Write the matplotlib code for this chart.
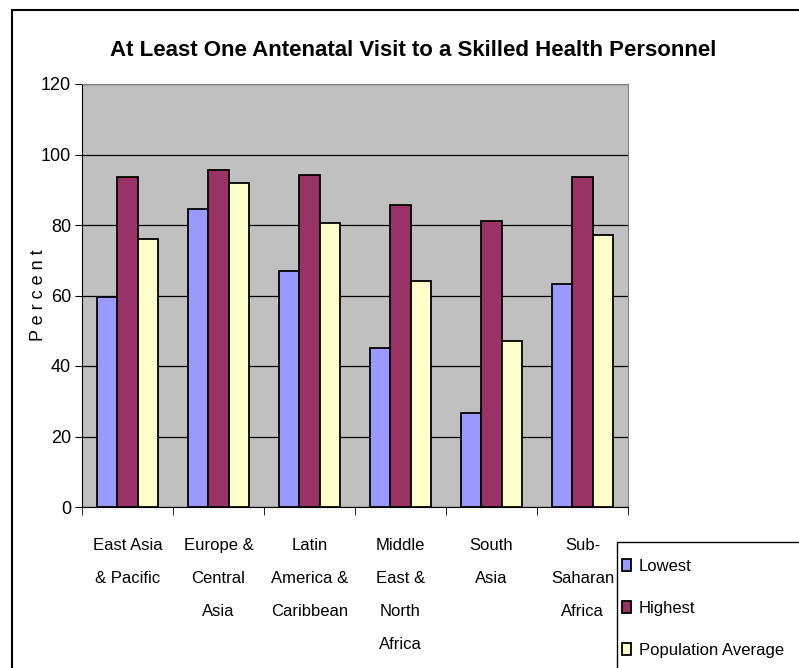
import matplotlib.pyplot as plt
from matplotlib.patches import Rectangle
import numpy as np

plt.rcParams['font.family'] = ['Liberation Sans', 'DejaVu Sans']

regions = ['East Asia\n& Pacific', 'Europe &\nCentral\nAsia', 'Latin\nAmerica &\nCaribbean',
           'Middle\nEast &\nNorth\nAfrica', 'South\nAsia', 'Sub-\nSaharan\nAfrica']
lowest = [59.5, 84.5, 66.9, 45.2, 26.8, 63.4]
highest = [93.7, 95.7, 94.3, 85.8, 81.2, 93.7]
pop_avg = [75.9, 91.8, 80.5, 64.2, 47.1, 77.3]

series = [('Lowest', lowest, '#9999FF'),
          ('Highest', highest, '#993366'),
          ('Population Average', pop_avg, '#FFFFCC')]

fig = plt.figure(figsize=(7.99, 6.68), dpi=100)
ax = fig.add_axes([82 / 799, 1 - 507 / 668, (628 - 82) / 799, (507 - 84) / 668])
ax.set_facecolor('#C0C0C0')

x = np.arange(len(regions))
w = 0.22
for k, (name, vals, col) in enumerate(series):
    ax.bar(x + (k - 1) * w, vals, w, color=col, edgecolor='black', linewidth=1.3,
           label=name, zorder=3)

ax.set_ylim(0, 120)
ax.set_xlim(-0.5, len(regions) - 0.5)
ax.set_yticks(range(0, 121, 20))
ax.yaxis.grid(True, color='black', linewidth=0.9, zorder=1)
ax.set_axisbelow(True)

ax.set_xticks(x)
ax.set_xticklabels(regions, fontsize=12, linespacing=2.5, va='top')
ax.set_xticks(np.arange(-0.5, len(regions)), minor=True)
ax.tick_params(axis='x', which='major', length=0, pad=22)
ax.tick_params(axis='x', which='minor', length=6, color='black')
ax.tick_params(axis='y', labelsize=13, length=5, pad=3)

for side in ['top', 'right']:
    ax.spines[side].set_color('#808080')
ax.spines['left'].set_color('black')
ax.spines['bottom'].set_color('black')

ax.set_ylabel('P e r c e n t', fontsize=13)
ax.yaxis.set_label_coords(-0.065, 0.5)

fig.text(413 / 799, 1 - 50 / 668, 'At Least One Antenatal Visit to a Skilled Health Personnel',
         ha='center', va='center', fontsize=16, fontweight='bold')

# legend box runs off the bottom/right edge in the original
fig.patches.append(Rectangle((617 / 799, -0.1), 0.5, 1 - 542 / 668 + 0.1,
                             transform=fig.transFigure, facecolor='white',
                             edgecolor='black', linewidth=1.0))
leg = fig.legend(loc='upper left', bbox_to_anchor=(617 / 799, 1 - 554 / 668),
                 fontsize=12, frameon=False,
                 handlelength=0.55, handleheight=0.75, handletextpad=0.45,
                 labelspacing=1.62, borderpad=0.3, borderaxespad=0)

fig.patches.append(Rectangle((12 / 799, -0.1), 1.1, 1 - 10 / 668 + 0.1,
                             transform=fig.transFigure, fill=False,
                             edgecolor='black', linewidth=1.5))

fig.savefig('out.png', dpi=100)
